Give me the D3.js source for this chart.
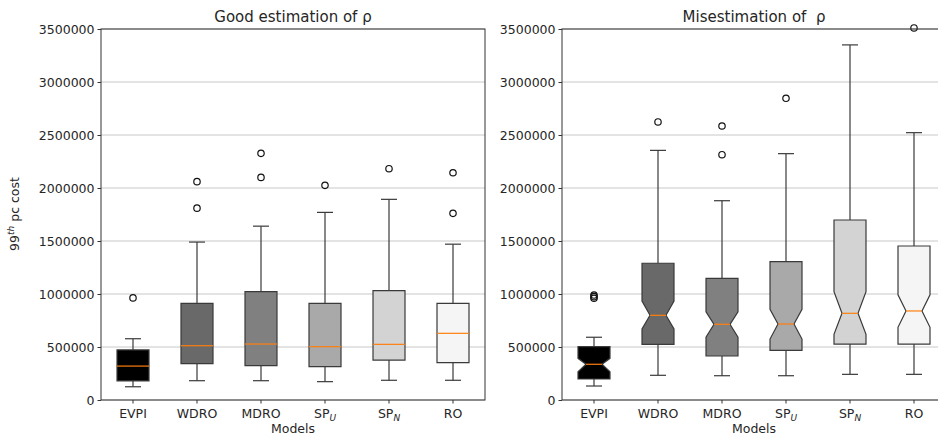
<!DOCTYPE html>
<meta charset="utf-8">
<script src="https://d3js.org/d3.v7.min.js"></script>
<style>
  body { margin: 0; background: #fff; }
  text { font-family: "DejaVu Sans", sans-serif; fill: #262626; }
</style>
<body>
<svg width="938" height="438"></svg>
<script>
    // models on the x axis
    var models  = ['EVPI', 'WDRO', 'MDRO', 'SP_U', 'SP_N', 'RO'];
    var fills   = ['#000000', '#696969', '#808080', '#a9a9a9', '#d3d3d3', '#f5f5f5'];
    var yTicks  = [0, 500000, 1000000, 1500000, 2000000, 2500000, 3000000, 3500000];

    // good estimation of rho
    var goodLo   = [125000, 182000, 182000, 173000, 186000, 186000];
    var goodQ1   = [180000, 343000, 324000, 314000, 377000, 352000];
    var goodMed  = [320000, 512000, 528000, 503000, 525000, 629000];
    var goodQ3   = [472000, 912000, 1022000, 912000, 1031000, 912000];
    var goodHi   = [578000, 1490000, 1640000, 1770000, 1893000, 1470000];
    var goodOut  = [[963000], [1810000, 2060000], [2100000, 2327000], [2025000], [2182000], [1761000, 2144000]];

    // misestimation of rho (notched)
    var misLo    = [132000, 233000, 229000, 229000, 242000, 242000];
    var misQ1    = [198000, 525000, 415000, 469000, 528000, 528000];
    var misMed   = [337000, 799000, 714000, 717000, 818000, 840000];
    var misQ3    = [503000, 1290000, 1148000, 1305000, 1698000, 1453000];
    var misHi    = [592000, 2355000, 1880000, 2324000, 3350000, 2522000];
    var misNLo   = [267000, 670000, 592000, 575000, 620000, 686000];
    var misNHi   = [393000, 934000, 833000, 856000, 1022000, 993000];
    var misOut   = [[960000, 975000, 990000], [2623000], [2314000, 2585000], [2846000], [], [3510000]];

    var svg = d3.select('svg');
    var yTop = 29, yBot = 400, bw = 32, capW = 16, pw = 384;
    var y = d3.scaleLinear().domain([0, 3500000]).range([yBot, yTop]);

    function panel(x0, title, lo, q1, med, q3, hi, outl, nlo, nhi){
        var x = d3.scaleBand().domain(models).range([x0, x0 + pw]);
        var g = svg.append('g');

        // grid
        g.selectAll('line.grid').data(yTicks).enter().append('line')
            .attr('x1', x0).attr('x2', x0 + pw)
            .attr('y1', function(d){ return y(d); }).attr('y2', function(d){ return y(d); })
            .attr('stroke', '#c8c8c8').attr('stroke-width', 1);

        models.forEach(function(m, i){
            var cx = x(m) + x.bandwidth() / 2, L = cx - bw / 2, R = cx + bw / 2;
            var b = g.append('g').attr('stroke', '#3a3a3a').attr('stroke-width', 1.2).attr('fill', 'none');
            // whiskers + caps
            b.append('line').attr('x1', cx).attr('x2', cx).attr('y1', y(q1[i])).attr('y2', y(lo[i]));
            b.append('line').attr('x1', cx).attr('x2', cx).attr('y1', y(q3[i])).attr('y2', y(hi[i]));
            b.append('line').attr('x1', cx - capW / 2).attr('x2', cx + capW / 2).attr('y1', y(lo[i])).attr('y2', y(lo[i]));
            b.append('line').attr('x1', cx - capW / 2).attr('x2', cx + capW / 2).attr('y1', y(hi[i])).attr('y2', y(hi[i]));
            // box
            var pts, mL = L, mR = R;
            if (nlo) {
                mL = cx - bw / 4; mR = cx + bw / 4;
                pts = [[L, q1[i]], [L, nlo[i]], [mL, med[i]], [L, nhi[i]], [L, q3[i]],
                       [R, q3[i]], [R, nhi[i]], [mR, med[i]], [R, nlo[i]], [R, q1[i]]];
            } else {
                pts = [[L, q1[i]], [L, q3[i]], [R, q3[i]], [R, q1[i]]];
            }
            b.append('path')
                .attr('d', d3.line()(pts.map(function(p){ return [p[0], y(p[1])]; })) + 'Z')
                .attr('fill', fills[i]);
            b.append('line').attr('x1', mL).attr('x2', mR).attr('y1', y(med[i])).attr('y2', y(med[i]))
                .attr('stroke', '#ff7f0e');
            b.selectAll('circle').data(outl[i]).enter().append('circle')
                .attr('cx', cx).attr('cy', function(d){ return y(d); }).attr('r', 3.2)
                .attr('stroke', '#111').attr('fill', 'none');
        });

        // frame
        g.append('rect').attr('x', x0).attr('y', yTop).attr('width', pw).attr('height', yBot - yTop)
            .attr('fill', 'none').attr('stroke', '#333').attr('stroke-width', 1);

        // axes
        var ya = d3.axisLeft(y).tickValues(yTicks).tickFormat(d3.format('d')).tickSize(3.5).tickPadding(3);
        var ay = g.append('g').attr('transform', 'translate(' + x0 + ',0)').call(ya);
        var xa = d3.axisBottom(x).tickSize(3.5).tickPadding(4).tickFormat('');
        var ax = g.append('g').attr('transform', 'translate(0,' + yBot + ')').call(xa);
        [ay, ax].forEach(function(a){
            a.select('.domain').remove();
            a.selectAll('line').attr('stroke', '#333');
            a.selectAll('text').attr('font-size', 12.5).attr('fill', '#262626')
                .style('font-family', '"DejaVu Sans", sans-serif');
        });
        // x tick labels with subscripts
        ax.selectAll('.tick').each(function(m){
            var t = d3.select(this).append('text').attr('y', 18).attr('text-anchor', 'middle')
                .attr('font-size', 12.5).attr('fill', '#262626');
            var parts = m.split('_');
            t.append('tspan').text(parts[0]);
            if (parts[1]) t.append('tspan').attr('font-size', 9).attr('font-style', 'italic')
                .attr('dy', 3).text(parts[1]);
        });

        g.append('text').attr('x', x0 + pw / 2).attr('y', 22).attr('text-anchor', 'middle')
            .attr('font-size', 15).style('white-space', 'pre').text(title);
        g.append('text').attr('x', x0 + pw / 2).attr('y', 433).attr('text-anchor', 'middle')
            .attr('font-size', 12.5).text('Models');
    }

    panel(101, 'Good estimation of ρ', goodLo, goodQ1, goodMed, goodQ3, goodHi, goodOut);
    panel(562, 'Misestimation of  ρ', misLo, misQ1, misMed, misQ3, misHi, misOut, misNLo, misNHi);

    // y label
    var yl = svg.append('text').attr('transform', 'translate(19,214) rotate(-90)')
        .attr('text-anchor', 'middle').attr('font-size', 12.5);
    yl.append('tspan').text('99');
    yl.append('tspan').attr('font-size', 9).attr('font-style', 'italic').attr('dy', -5).text('th');
    yl.append('tspan').attr('dy', 5).text(' pc cost');
</script>
</body>
